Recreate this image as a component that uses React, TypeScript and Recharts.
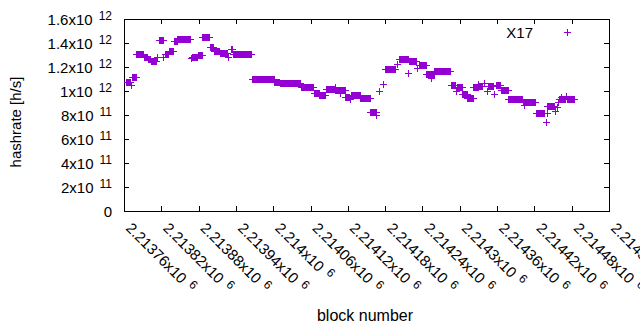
import React from 'react';
import { ScatterChart, Scatter, XAxis, YAxis, ReferenceArea, Legend } from 'recharts';

const FONT = '"Liberation Sans", Arial, sans-serif';
const COLOR = '#9400d3';

const xTicks = [
  2213760, 2213820, 2213880, 2213940, 2214000, 2214060, 2214120,
  2214180, 2214240, 2214300, 2214360, 2214420, 2214480, 2214540,
];
const yTicks = [0, 2e11, 4e11, 6e11, 8e11, 1e12, 1.2e12, 1.4e12, 1.6e12];

// Runs of consecutive blocks sharing one hashrate.
// Block numbers are given as offsets from BLOCK_BASE; values in units of 1e10 h/s.
const BLOCK_BASE = 2213760;
const runStart = [
  3, 11, 13, 20, 32, 38, 43, 53, 57, 63,
  66, 72, 80, 86, 107, 110, 119, 126, 138, 144,
  154, 167, 172, 175, 177, 206, 242, 251, 284, 305,
  314, 325, 339, 340, 347, 348, 356, 363, 365, 380,
  396, 406, 410, 416, 420, 439, 442, 457, 458, 471,
  474, 486, 494, 495, 499, 526, 534, 535, 544, 552,
  562, 570, 571, 579, 584, 586, 595, 599, 606, 618,
  641, 643, 644, 662, 679, 680, 681, 693, 696, 698,
  699, 703, 704, 711, 712,
];
const runEnd = [
  10, 11, 19, 31, 37, 42, 52, 53, 62, 63,
  71, 79, 85, 106, 107, 118, 125, 137, 143, 153,
  165, 167, 174, 175, 205, 241, 250, 283, 304, 313,
  324, 338, 339, 346, 347, 355, 362, 363, 379, 395,
  405, 406, 410, 416, 436, 439, 456, 457, 470, 471,
  485, 493, 494, 498, 525, 533, 534, 543, 551, 561,
  569, 570, 576, 579, 584, 593, 595, 605, 617, 640,
  642, 643, 661, 675, 679, 680, 692, 693, 696, 698,
  702, 703, 710, 711, 724,
];
const runValue = [
  107.5, 105, 111.4, 130.5, 128, 126.7, 124.7, 128.6, 142.5, 128.4,
  131, 133.3, 141.7, 143.3, 127.5, 128, 130, 144.7, 136.4, 133.3,
  131.4, 128.6, 135, 131, 130.5, 109.7, 107.8, 106.4, 103, 98.6,
  96.4, 101.4, 103.5, 100.8, 98.6, 100.8, 95.3, 93.3, 96.7, 94,
  82.8, 80, 100, 105.6, 118, 122.5, 127, 114.7, 125, 119,
  121.7, 114, 111, 114, 116.3, 105, 100, 103, 97.2, 94.4,
  103, 105.6, 104, 106.4, 100.3, 104.4, 97.2, 105, 100.8, 93.3,
  90.6, 88.3, 90.6, 81.4, 74, 82, 87.5, 83.3, 87, 91,
  93.3, 95, 93.3, 96, 93.3,
];

const data: { block: number; hashrate: number }[] = [];
runStart.forEach((s, i) => {
  for (let b = s; b <= runEnd[i]; b += 1) {
    data.push({ block: BLOCK_BASE + b, hashrate: runValue[i] * 1e10 });
  }
});

const PLOT_L = 124;
const PLOT_R = 609;
const PLOT_T = 19;
const PLOT_B = 211;

const Plus = (props: any) => {
  const { cx, cy } = props;
  if (cx == null || cy == null) return null;
  const x = Math.round(cx) + 0.5;
  const y = Math.round(cy) + 0.5;
  return (
    <path
      d={`M${x - 3.5},${y}h7M${x},${y - 3.5}v7`}
      stroke={COLOR}
      strokeWidth={1}
      fill="none"
      shapeRendering="crispEdges"
    />
  );
};

const YTick = (props: any) => {
  const { y, payload } = props;
  const v: number = payload.value;
  const yy = Math.round(y) + 0.5;
  let main = '0';
  let exp = '';
  if (v !== 0) {
    const e = Math.floor(Math.log10(v) + 1e-9);
    const m = parseFloat((v / Math.pow(10, e)).toFixed(3));
    main = `${m}x10`;
    exp = `${e}`;
  }
  return (
    <g>
      <line x1={PLOT_L} x2={PLOT_L + 5} y1={yy} y2={yy} stroke="#000" shapeRendering="crispEdges" />
      <line x1={PLOT_R} x2={PLOT_R - 5} y1={yy} y2={yy} stroke="#000" shapeRendering="crispEdges" />
      <text x={112} y={y + 6} textAnchor="end" fontFamily={FONT} fontSize={15} fill="#000">
        {main}
        {exp && (
          <tspan dx={6} dy={-5} fontSize={12}>
            {exp}
          </tspan>
        )}
      </text>
    </g>
  );
};

const XTick = (props: any) => {
  const { x, payload } = props;
  const v: number = payload.value;
  const xx = Math.round(x) + 0.5;
  const main = `${parseFloat((v / 1e6).toFixed(5))}x10`;
  const tx = x + 1;
  const ty = 229;
  return (
    <g>
      <line x1={xx} x2={xx} y1={PLOT_B} y2={PLOT_B - 5} stroke="#000" shapeRendering="crispEdges" />
      <line x1={xx} x2={xx} y1={PLOT_T} y2={PLOT_T + 5} stroke="#000" shapeRendering="crispEdges" />
      <text
        x={tx}
        y={ty}
        transform={`rotate(45, ${tx}, ${ty})`}
        textAnchor="start"
        fontFamily={FONT}
        fontSize={15}
        fill="#000"
      >
        {main}
        <tspan dx={6} dy={-5} fontSize={12}>
          6
        </tspan>
      </text>
    </g>
  );
};

const LegendContent = () => (
  <div style={{ position: 'relative', width: 640, height: 20, fontFamily: FONT }}>
    <span
      style={{
        position: 'absolute',
        right: 640 - 533,
        top: 25,
        fontSize: 15,
        lineHeight: '15px',
        color: '#000',
        whiteSpace: 'nowrap',
      }}
    >
      X17
    </span>
    <svg style={{ position: 'absolute', left: 560, top: 25 }} width={14} height={14}>
      <path d="M3.5,7.5h7M7.5,4v7" stroke={COLOR} strokeWidth={1} fill="none" shapeRendering="crispEdges" />
    </svg>
  </div>
);

export default function App() {
  return (
    <div style={{ position: 'absolute', left: 0, top: 0, width: 640, height: 330, background: '#fff' }}>
      <ScatterChart width={640} height={330} margin={{ top: PLOT_T, right: 640 - PLOT_R, bottom: 0, left: 0 }}>
        <XAxis
          dataKey="block"
          type="number"
          domain={[2213760, 2214540]}
          ticks={xTicks}
          interval={0}
          allowDataOverflow
          height={330 - PLOT_B}
          axisLine={false}
          tickLine={false}
          tick={<XTick />}
          label={() => (
            <text x={365} y={321} textAnchor="middle" fontFamily={FONT} fontSize={16} fill="#000">
              block number
            </text>
          )}
        />
        <YAxis
          dataKey="hashrate"
          type="number"
          domain={[0, 1.6e12]}
          ticks={yTicks}
          interval={0}
          allowDataOverflow
          width={PLOT_L}
          axisLine={false}
          tickLine={false}
          tick={<YTick />}
          label={() => (
            <text
              transform="translate(20.5,122) rotate(-90)"
              textAnchor="middle"
              fontFamily={FONT}
              fontSize={15}
              fill="#000"
            >
              hashrate [h/s]
            </text>
          )}
        />
        <ReferenceArea
          x1={2213760}
          x2={2214540}
          y1={0}
          y2={1.6e12}
          shape={(p: any) => (
            <rect
              x={Math.round(p.x) + 0.5}
              y={Math.round(p.y) + 0.5}
              width={Math.round(p.width)}
              height={Math.round(p.height)}
              fill="none"
              stroke="#000"
              strokeWidth={1}
              shapeRendering="crispEdges"
            />
          )}
        />
        <Legend
          layout="horizontal"
          verticalAlign="middle"
          align="center"
          wrapperStyle={{ top: 0, left: 0, width: 640, height: 20 }}
          content={() => <LegendContent />}
        />
        <Scatter data={data} fill={COLOR} isAnimationActive={false} shape={(p: any) => <Plus {...p} />} />
      </ScatterChart>
    </div>
  );
}
